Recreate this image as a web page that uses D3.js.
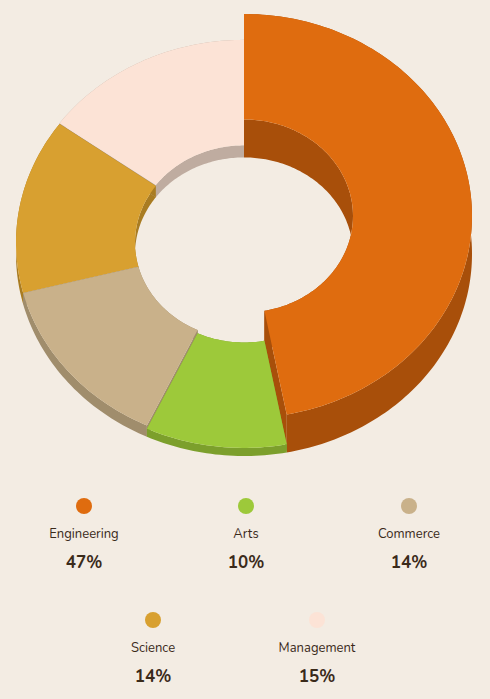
<!DOCTYPE html>
<html><head><meta charset="utf-8">
<script src="https://cdn.jsdelivr.net/npm/d3@7"></script>
<style>body{margin:0;background:#f3ece3;font-family:"Nunito","Lato","Open Sans",sans-serif}</style>
</head><body><svg id="c" width="490" height="699"></svg>
<script>
const categories=["Engineering","Arts","Commerce","Science","Management"];
const values=[47,10,14,14,15];
const topColors=["#df6c0f","#9dc93a","#c9b18a","#d8a030","#fce3d6"];
const sideColors=["#a84f0a","#7c9f2c","#a08d6c","#a97c22","#bfaca0"];

const svg=d3.select("#c");
const cx=244,cy=254,rx=228,ry=202,inner=0.478;
const hScale=d3.scaleLinear().domain([0,47]).range([0,38]);
const pie=d3.pie().sort(null).value(d=>d)(values);
const P=(a,f,h)=>[cx+rx*f*Math.sin(a),cy-h-ry*f*Math.cos(a)];
const line=d3.line();
const arcPts=(a0,a1,f,h)=>{const n=Math.max(4,Math.ceil((a1-a0)/0.02));return d3.range(n+1).map(i=>P(a0+(a1-a0)*i/n,f,h));};
const slices=pie.map((p,i)=>({...p,i,h:hScale(p.value)}));
const g=svg.append("g");
const wall=(s,a0,a1,f)=>line([...arcPts(a0,a1,f,s.h),...arcPts(a0,a1,f,0).reverse()])+"Z";
// inner walls first
slices.forEach(s=>g.append("path").attr("d",wall(s,s.startAngle,s.endAngle,inner)).attr("fill",sideColors[s.i]));
const order=slices.slice().sort((a,b)=>-Math.cos((a.startAngle+a.endAngle)/2)+Math.cos((b.startAngle+b.endAngle)/2));
order.forEach(s=>{
  [s.startAngle,s.endAngle].forEach(a=>{
    g.append("path").attr("d",line([P(a,inner,s.h),P(a,1,s.h),P(a,1,0),P(a,inner,0)])+"Z").attr("fill",sideColors[s.i]);
  });
  g.append("path").attr("d",wall(s,s.startAngle,s.endAngle,1)).attr("fill",sideColors[s.i]);
  g.append("path").attr("d",line([...arcPts(s.startAngle,s.endAngle,1,s.h),...arcPts(s.startAngle,s.endAngle,inner,s.h).reverse()])+"Z").attr("fill",topColors[s.i]);
});
// legend
const lx=[84,246,409,153,317],ly=[506,506,506,620,620];
const lg=svg.append("g").selectAll("g").data(categories).join("g").attr("transform",(d,i)=>`translate(${lx[i]},${ly[i]})`);
lg.append("circle").attr("r",8).attr("fill",(d,i)=>topColors[i]);
lg.append("text").attr("y",32).attr("text-anchor","middle").attr("font-size",13).attr("fill","#3a2a1a").text(d=>d);
lg.append("text").attr("y",62).attr("text-anchor","middle").attr("font-size",17).attr("font-weight","bold").attr("fill","#3a2a1a").text((d,i)=>values[i]+"%");
</script></body></html>
